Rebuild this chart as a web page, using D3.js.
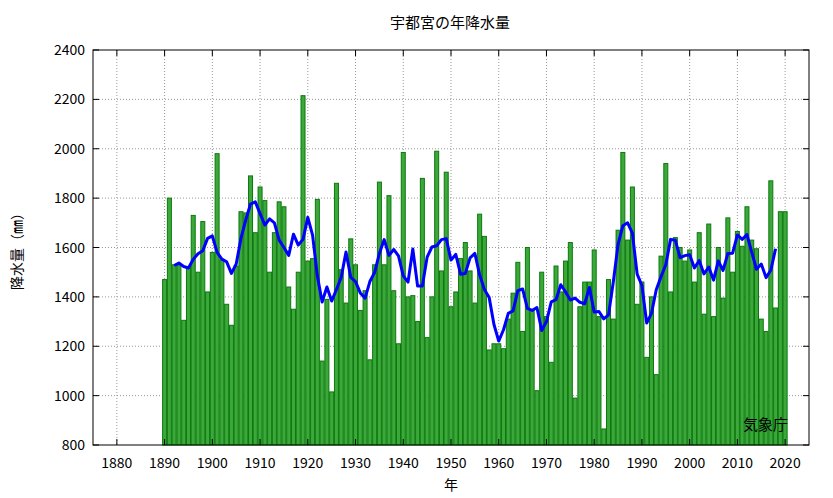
<!DOCTYPE html>
<html><head><meta charset="utf-8">
<script src="https://cdn.jsdelivr.net/npm/d3@7"></script>
<style>body{margin:0;background:#fff}text{font-family:"Noto Sans CJK JP","DejaVu Sans",sans-serif}</style>
</head><body><svg id="c" width="833" height="498"></svg>
<script>
"use strict"
const firstYear = 1890
const rain = [1470,1800,1530,1530,1305,1520,1730,1500,1705,1420,1580,1980,1550,1370,1285,1525,1745,1740,1890,1660,
  1845,1790,1500,1660,1785,1765,1440,1350,1500,2215,1545,1555,1795,1140,1390,1015,1860,1510,1375,1635,
  1530,1345,1425,1145,1530,1865,1530,1810,1425,1210,1985,1400,1405,1300,1880,1235,1400,1990,1505,1905,
  1360,1420,1555,1620,1505,1375,1735,1645,1185,1210,1210,1190,1310,1415,1540,1260,1600,1345,1020,1500,
  1320,1135,1525,1420,1545,1620,990,1360,1460,1460,1590,1320,865,1470,1310,1670,1985,1630,1845,1370,
  1460,1155,1400,1085,1565,1940,1420,1640,1600,1545,1590,1460,1660,1330,1695,1320,1600,1395,1720,1500,
  1665,1605,1765,1630,1595,1310,1260,1870,1355,1745,1745]
const xTicks = d3.range(1880, 2021, 10)
const yTicks = d3.range(800, 2401, 200)

const data = rain.map((v, i) => ({ year: firstYear + i, v }))
// 5-year running mean
const avg = data.slice(2, -2).map((d, i) => ({ year: d.year, v: d3.mean(rain.slice(i, i + 5)) }))

const svg = d3.select("#c")
const L = 93, R = 809, T = 50, B = 445
const x = d3.scaleLinear().domain([1875, 2025]).range([L, R])
const y = d3.scaleLinear().domain([800, 2400]).range([B, T])

// grid
svg.append("g").selectAll("line").data(xTicks).join("line")
  .attr("x1", d => x(d)).attr("x2", d => x(d)).attr("y1", T).attr("y2", B)
  .attr("stroke", "#999").attr("stroke-dasharray", "1,2")
svg.append("g").selectAll("line").data(yTicks.slice(1, -1)).join("line")
  .attr("x1", L).attr("x2", R).attr("y1", d => y(d)).attr("y2", d => y(d))
  .attr("stroke", "#999").attr("stroke-dasharray", "1,2")

// bars
const bw = 4
svg.append("g").selectAll("rect").data(data).join("rect")
  .attr("x", d => x(d.year) - bw / 2).attr("width", bw)
  .attr("y", d => y(d.v)).attr("height", d => B - y(d.v))
  .attr("fill", "#3ca83c").attr("stroke", "#0a7a0a").attr("stroke-width", 1)

// moving average
svg.append("path").datum(avg)
  .attr("d", d3.line().x(d => x(d.year)).y(d => y(d.v)))
  .attr("fill", "none").attr("stroke", "#0000ff").attr("stroke-width", 3).attr("stroke-linejoin", "round")

// frame and ticks
svg.append("rect").attr("x", L).attr("y", T).attr("width", R - L).attr("height", B - T)
  .attr("fill", "none").attr("stroke", "#000")
const tk = svg.append("g").attr("stroke", "#000")
xTicks.forEach(d => {
  tk.append("line").attr("x1", x(d)).attr("x2", x(d)).attr("y1", B).attr("y2", B - 6)
  tk.append("line").attr("x1", x(d)).attr("x2", x(d)).attr("y1", T).attr("y2", T + 6)
})
yTicks.forEach(d => {
  tk.append("line").attr("x1", L).attr("x2", L + 6).attr("y1", y(d)).attr("y2", y(d))
  tk.append("line").attr("x1", R).attr("x2", R - 6).attr("y1", y(d)).attr("y2", y(d))
})
svg.append("g").selectAll("text").data(xTicks).join("text")
  .attr("x", d => x(d)).attr("y", B + 23).attr("text-anchor", "middle").attr("font-size", 14).text(d => d)
svg.append("g").selectAll("text").data(yTicks).join("text")
  .attr("x", L - 8).attr("y", d => y(d) + 5).attr("text-anchor", "end").attr("font-size", 14).text(d => d)

svg.append("text").attr("x", 450).attr("y", 28).attr("text-anchor", "middle").attr("font-size", 15).text("宇都宮の年降水量")
svg.append("text").attr("x", 451).attr("y", 490).attr("text-anchor", "middle").attr("font-size", 14).text("年")
svg.append("text").attr("transform", "translate(22,248) rotate(-90)").attr("text-anchor", "middle").attr("font-size", 14).text("降水量（㎜）")
svg.append("text").attr("x", 788).attr("y", 430).attr("text-anchor", "end").attr("font-size", 15).text("気象庁")
</script></body></html>
